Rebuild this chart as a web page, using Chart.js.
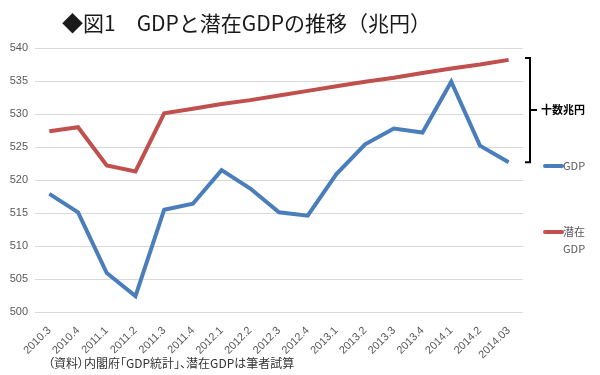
<!DOCTYPE html>
<html>
<head>
<meta charset="utf-8">
<script src="https://cdn.jsdelivr.net/npm/chart.js@4.4.1/dist/chart.umd.min.js"></script>
<style>
    body { margin: 0; background: #fff; }
    #wrap { position: relative; width: 600px; height: 375px; }
    #title { position: absolute; left: 62px; top: 7px; font-family: "Noto Sans CJK JP", sans-serif; font-size: 21px; color: #1a1a1a; white-space: nowrap; }
    #note { position: absolute; left: 48px; top: 354px; font-family: "Noto Sans CJK JP", sans-serif; font-size: 12px; color: #333; white-space: nowrap; font-feature-settings: "palt"; }
</style>
</head>
<body>
<div id="wrap">
    <canvas id="myChart" width="600" height="375"></canvas>
    <div id="title">◆図1　GDPと潜在GDPの推移（兆円）</div>
    <div id="note">（資料）内閣府「GDP統計」、潜在GDPは筆者試算</div>
</div>
<script>
var quarters = ['2010.3', '2010.4', '2011.1', '2011.2', '2011.3', '2011.4', '2012.1', '2012.2', '2012.3',
    '2012.4', '2013.1', '2013.2', '2013.3', '2013.4', '2014.1', '2014.2', '2014.03'];
var gdp = [517.9, 515.1, 505.9, 502.4, 515.5, 516.4, 521.5, 518.7, 515.1, 514.6, 520.9, 525.4, 527.8, 527.2, 534.9, 525.2, 522.7];
var potential = [527.4, 528.0, 522.2, 521.3, 530.1, 530.8, 531.5, 532.1, 532.8, 533.5, 534.2, 534.9, 535.5, 536.2, 536.9, 537.5, 538.2];
var yTicks = [500, 505, 510, 515, 520, 525, 530, 535, 540];
var gapLabel = '十数兆円';

var BLUE = '#4A7EBB';
var RED = '#C0504D';

// bracket + legend on the right side
var sidePlugin = {
    id: 'side',
    afterDraw: function (chart) {
        var ctx = chart.ctx;
        var y = chart.scales.y;
        var top = y.getPixelForValue(potential[potential.length - 1]) - 2;
        var bottom = y.getPixelForValue(gdp[gdp.length - 1]);
        var mid = (top + bottom) / 2;
        ctx.save();
        ctx.strokeStyle = '#000';
        ctx.lineWidth = 2;
        ctx.beginPath();
        ctx.moveTo(525, top);
        ctx.lineTo(530, top);
        ctx.lineTo(530, bottom);
        ctx.lineTo(525, bottom);
        ctx.moveTo(530, mid);
        ctx.lineTo(537, mid);
        ctx.stroke();
        ctx.fillStyle = '#000';
        ctx.font = 'bold 11px "Noto Sans CJK JP"';
        ctx.textBaseline = 'middle';
        ctx.fillText(gapLabel, 541, mid);

        // legend
        var items = [
            { color: BLUE, lines: ['GDP'], y: 166 },
            { color: RED, lines: ['潜在', 'GDP'], y: 232 }
        ];
        ctx.lineCap = 'round';
        items.forEach(function (it) {
            ctx.strokeStyle = it.color;
            ctx.lineWidth = 4;
            ctx.beginPath();
            ctx.moveTo(545, it.y);
            ctx.lineTo(562, it.y);
            ctx.stroke();
            ctx.fillStyle = '#595959';
            ctx.font = '11px "Noto Sans CJK JP"';
            for (var i = 0; i < it.lines.length; i++) {
                ctx.fillText(it.lines[i], 563, it.y + i * 17);
            }
        });
        ctx.restore();
    }
};

var ctx = document.getElementById('myChart').getContext('2d');
var myChart = new Chart(ctx, {
    type: 'line',
    data: {
        labels: quarters,
        datasets: [
            {
                label: 'GDP',
                data: gdp,
                borderColor: BLUE,
                borderWidth: 4,
                pointRadius: 0,
                tension: 0
            },
            {
                label: '潜在GDP',
                data: potential,
                borderColor: RED,
                borderWidth: 4,
                pointRadius: 0,
                tension: 0
            }
        ]
    },
    options: {
        responsive: false,
        animation: false,
        layout: {
            padding: { left: 0, top: 48, right: 77, bottom: 0 }
        },
        plugins: {
            legend: { display: false },
            tooltip: { enabled: false }
        },
        scales: {
            x: {
                offset: true,
                grid: { display: false },
                border: { display: false },
                ticks: {
                    maxRotation: 45,
                    minRotation: 45,
                    autoSkip: false,
                    color: '#595959',
                    font: { family: 'Liberation Sans', size: 11 },
                    padding: 4
                },
                afterFit: function (scale) { scale.height = 63; }
            },
            y: {
                min: 500,
                max: 540,
                afterBuildTicks: function (scale) {
                    scale.ticks = yTicks.map(function (v) { return { value: v }; });
                },
                grid: { color: '#D9D9D9', drawTicks: false },
                border: { display: false },
                ticks: {
                    color: '#595959',
                    font: { family: 'Liberation Sans', size: 11 },
                    padding: 7
                },
                afterFit: function (scale) { scale.width = 35; }
            }
        }
    },
    plugins: [sidePlugin]
});
</script>
</body>
</html>
